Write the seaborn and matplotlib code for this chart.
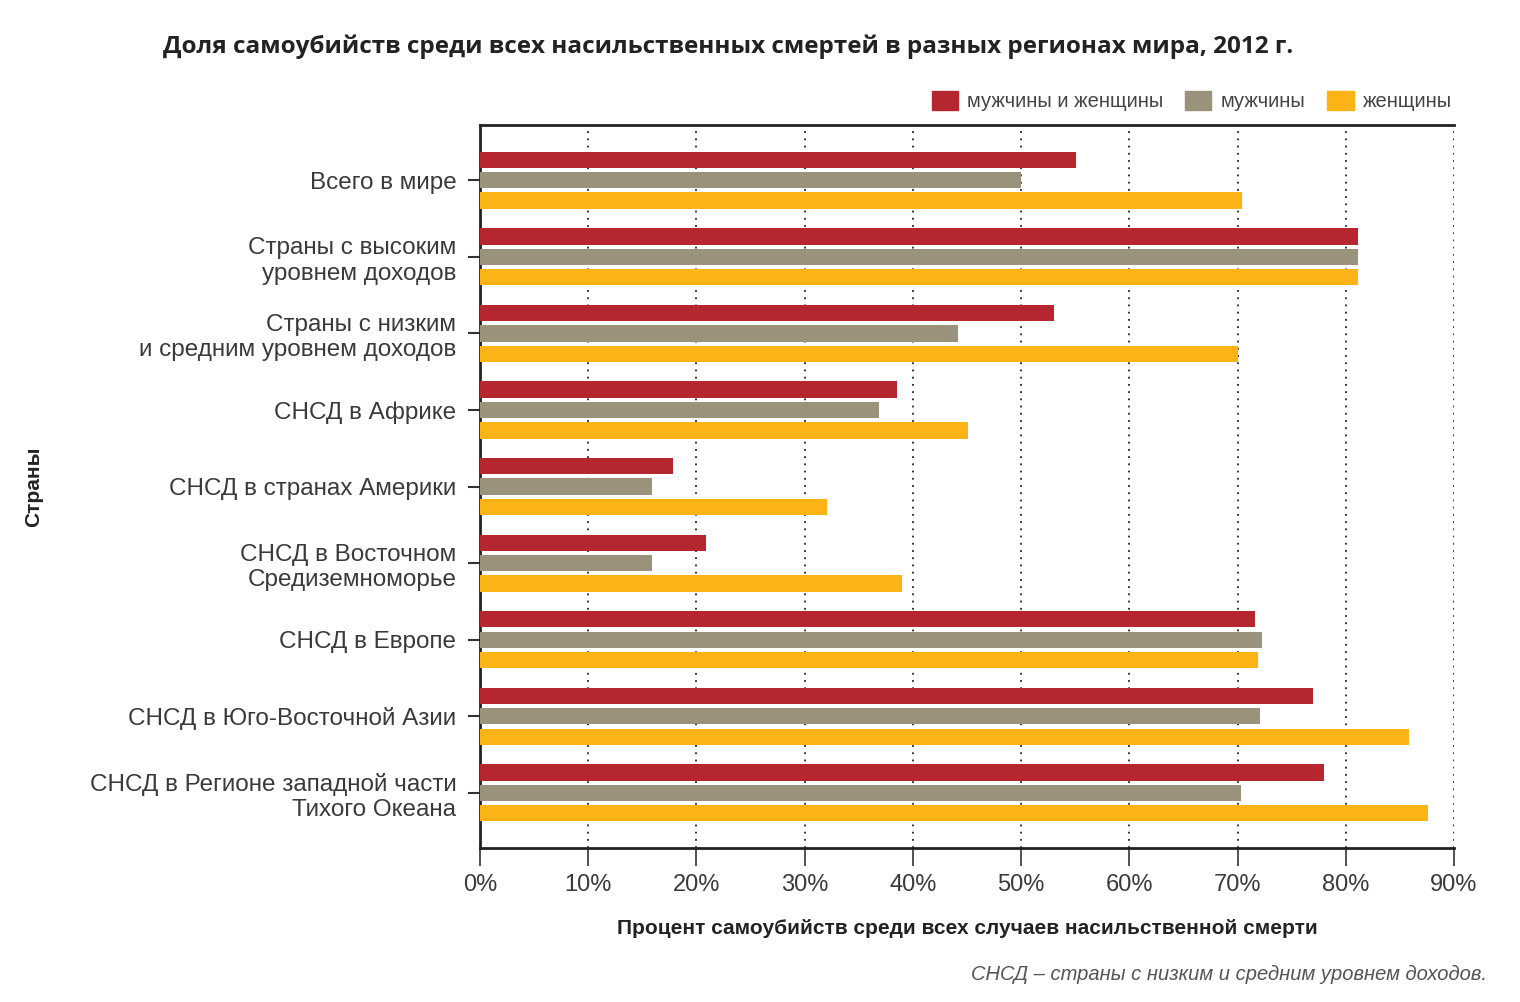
import matplotlib
matplotlib.use("Agg")
import matplotlib.pyplot as plt
import pandas as pd
import seaborn as sns
import numpy as np
from matplotlib.ticker import FuncFormatter

# Data (percent of violent deaths that are suicides)
regions = [
    "Всего в мире",
    "Страны с высоким\nуровнем доходов",
    "Страны с низким\nи средним уровнем доходов",
    "СНСД в Африке",
    "СНСД в странах Америки",
    "СНСД в Восточном\nСредиземноморье",
    "СНСД в Европе",
    "СНСД в Юго-Восточной Азии",
    "СНСД в Регионе западной части\nТихого Океана",
]
both = [55.1, 81.1, 53.0, 38.5, 17.8, 20.9, 71.6, 77.0, 78.0]
men = [50.0, 81.1, 44.2, 36.9, 15.9, 15.9, 72.3, 72.1, 70.3]
women = [70.4, 81.1, 70.0, 45.1, 32.1, 39.0, 71.9, 85.8, 87.6]
series = ["мужчины и женщины", "мужчины", "женщины"]
colors = ["#B5262F", "#9A927A", "#FBB316"]

df = pd.DataFrame({"region": regions, series[0]: both, series[1]: men, series[2]: women})
df = df.melt(id_vars="region", var_name="group", value_name="value")

sns.set_style("white")
plt.rcParams['font.family'] = ['Liberation Sans', 'DejaVu Sans']

fig = plt.figure(figsize=(15.2, 10.02), dpi=100)
ax = fig.add_axes([0.3158, 0.1537, 0.6408, 0.7215])

sns.barplot(data=df, y="region", x="value", hue="group", hue_order=series,
            palette=colors, orient="h", width=0.8, gap=0.2, ax=ax,
            saturation=1, edgecolor="none", legend=False, zorder=3)

ax.set_xlim(0, 90)
ax.set_ylim(8.72, -0.72)
ax.set_xticks(np.arange(0, 91, 10))
ax.xaxis.set_major_formatter(FuncFormatter(lambda v, p: f"{v:.0f}%"))
for x in range(10, 91, 10):
    ax.axvline(x, color="#222222", linestyle=(0, (1, 3)), linewidth=1.3, zorder=1)

ax.tick_params(axis="x", bottom=True, direction="out", length=13, width=1.2,
               colors="#333333", labelsize=17, pad=6)
ax.tick_params(axis="y", left=True, direction="out", length=9, width=1.5,
               colors="#333333", labelsize=17.5, pad=8)
for lbl in ax.get_xticklabels() + ax.get_yticklabels():
    lbl.set_color("#3a3a3a")
for lbl in ax.get_yticklabels():
    lbl.set_horizontalalignment("right")
    lbl.set_multialignment("right")

for side in ["left", "bottom", "top"]:
    ax.spines[side].set_visible(True)
    ax.spines[side].set_color("#222222")
    ax.spines[side].set_linewidth(2)
ax.spines["right"].set_visible(False)

ax.set_xlabel("Процент самоубийств среди всех случаев насильственной смерти",
              fontsize=15, fontweight="bold", color="#222222", labelpad=16)
ax.set_ylabel("")
fig.text(0.022, 0.5147, "Страны", rotation=90, ha="center", va="center",
         fontsize=15, fontweight="bold", color="#222222")

fig.text(0.107, 0.953, "Доля самоубийств среди всех насильственных смертей в разных регионах мира, 2012 г.",
         fontsize=17.5, fontweight="bold", color="#222222", ha="left", va="center",
         family=["Open Sans", "DejaVu Sans"])

fig.text(0.978, 0.027, "СНСД – страны с низким и средним уровнем доходов.",
         fontsize=14.5, style="italic", color="#555555", ha="right", va="center")

handles = [plt.Rectangle((0, 0), 1, 1, color=c) for c in colors]
fig.legend(handles, series, loc="center right", bbox_to_anchor=(0.967, 0.899),
           ncol=3, frameon=False, fontsize=14.5, handlelength=1.3, handleheight=1.1,
           columnspacing=1.1, handletextpad=0.45, labelcolor="#444444")

fig.savefig("out.png", dpi=100)
